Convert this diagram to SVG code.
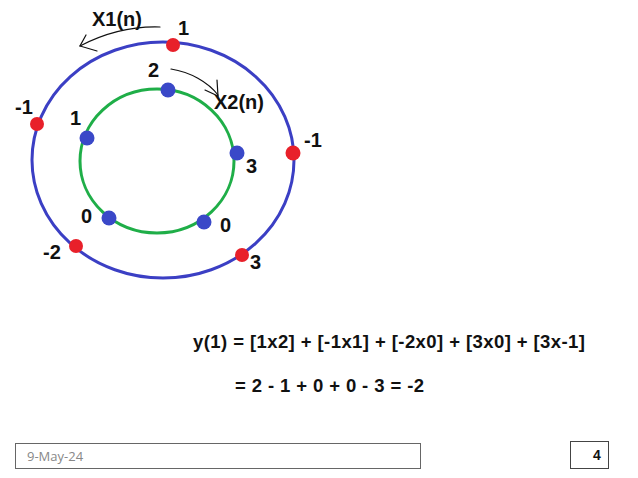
<svg xmlns="http://www.w3.org/2000/svg" width="638" height="478" viewBox="0 0 638 478">
<style>
.lbl{font-family:"Liberation Sans","DejaVu Sans",sans-serif;font-weight:bold;font-size:20px;fill:#111}
.eq{font-family:"Liberation Sans",Arial,sans-serif;font-weight:bold;font-size:18.5px;fill:#111}
.red{fill:#e8202a}
.blue{fill:#3a48c8}
.pen{fill:none;stroke:#111;stroke-width:1.2;stroke-linecap:round}
</style>
<rect width="638" height="478" fill="#fff"/>
<g id="outer-ring"><ellipse cx="163" cy="160" rx="131" ry="118" fill="none" stroke="#3b3fc4" stroke-width="3"/></g>
<g id="inner-ring"><ellipse cx="157" cy="161" rx="77" ry="72" fill="none" stroke="#1fae48" stroke-width="3"/></g>
<g id="connectors">
<path class="pen" d="M160 27 C130 26 105 33 80 46"/>
<path class="pen" d="M86 35 L80 46 L97 51"/>
<path class="pen" d="M171 69 C190 72 208 82 218 95"/>
<path class="pen" d="M217 80 L218 96 L205 90"/>
</g>
<g id="x1-dots">
<circle class="red" cx="173" cy="45" r="7"/>
<circle class="red" cx="37" cy="124" r="7"/>
<circle class="red" cx="293" cy="153" r="7.5"/>
<circle class="red" cx="76" cy="246" r="7"/>
<circle class="red" cx="242" cy="255" r="7"/>
</g>
<g id="x2-dots">
<circle class="blue" cx="168" cy="90" r="7.5"/>
<circle class="blue" cx="87" cy="138" r="7.5"/>
<circle class="blue" cx="237" cy="153" r="7.5"/>
<circle class="blue" cx="109" cy="218" r="7.5"/>
<circle class="blue" cx="204" cy="222" r="7.5"/>
</g>
<g id="labels">
<text class="lbl" x="92" y="26">X1(n)</text>
<text class="lbl" x="178" y="35">1</text>
<text class="lbl" x="148" y="77">2</text>
<text class="lbl" x="214" y="109">X2(n)</text>
<text class="lbl" x="15" y="114">-1</text>
<text class="lbl" x="70" y="125">1</text>
<text class="lbl" x="304" y="147">-1</text>
<text class="lbl" x="246" y="173">3</text>
<text class="lbl" x="81" y="223">0</text>
<text class="lbl" x="220" y="232">0</text>
<text class="lbl" x="43" y="259">-2</text>
<text class="lbl" x="250" y="269">3</text>
</g>
<g id="equation">
<text class="eq" x="193" y="348" textLength="392">y(1) = [1x2] + [-1x1] + [-2x0] + [3x0] + [3x-1]</text>
<text class="eq" x="235" y="392" textLength="189">= 2 - 1 + 0 + 0 - 3 = -2</text>
</g>
<g id="footer">
<rect x="15.5" y="443.5" width="405" height="25" fill="none" stroke="#666" stroke-width="1"/>
<text x="27" y="461" font-family="'Open Sans','Liberation Sans',sans-serif" font-size="13" fill="#888">9-May-24</text>
<rect x="570.5" y="441.5" width="38" height="27" fill="none" stroke="#444" stroke-width="1"/>
<text x="597" y="460" text-anchor="middle" font-family="'Liberation Sans',sans-serif" font-weight="bold" font-size="14" fill="#111">4</text>
</g>
</svg>
